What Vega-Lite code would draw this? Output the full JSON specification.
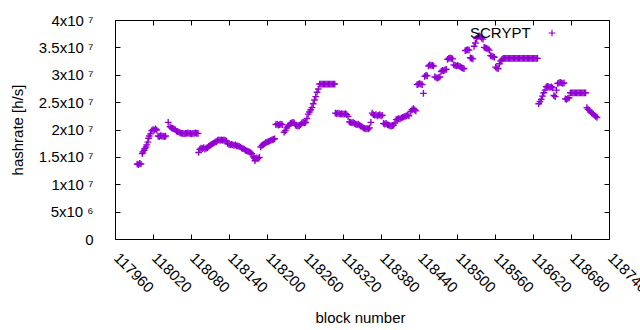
{
"$schema": "https://vega.github.io/schema/vega-lite/v6.json",
"width": 494, "height": 219,
"autosize": {"type": "none"},
"padding": {"left": 115, "top": 20, "right": 31, "bottom": 91},
"background": "white",
"config": {"view": {"stroke": "black", "strokeWidth": 1}, "font": "Liberation Sans"},
"data": {"values": [
{"b":117995,"h":1.37e7},{"b":117997,"h":1.36e7},{"b":117999,"h":1.38e7},{"b":118001,"h":1.37e7},
{"b":118003,"h":1.56e7},{"b":118004,"h":1.59e7},{"b":118006,"h":1.62e7},{"b":118007,"h":1.65e7},{"b":118009,"h":1.68e7},{"b":118010,"h":1.72e7},{"b":118012,"h":1.77e7},{"b":118013,"h":1.84e7},{"b":118014,"h":1.88e7},{"b":118016,"h":1.92e7},
{"b":118018,"h":1.98e7},{"b":118020,"h":2.00e7},{"b":118022,"h":1.99e7},{"b":118024,"h":2.01e7},{"b":118026,"h":1.99e7},
{"b":118028,"h":1.88e7},{"b":118030,"h":1.87e7},{"b":118032,"h":1.89e7},{"b":118034,"h":1.88e7},{"b":118036,"h":1.88e7},{"b":118038,"h":1.87e7},{"b":118040,"h":1.88e7},
{"b":118044,"h":2.13e7},
{"b":118047,"h":2.05e7},{"b":118049,"h":2.03e7},{"b":118051,"h":2.02e7},{"b":118053,"h":2.01e7},{"b":118055,"h":2.00e7},
{"b":118057,"h":1.97e7},{"b":118059,"h":1.96e7},{"b":118061,"h":1.95e7},{"b":118063,"h":1.94e7},
{"b":118065,"h":1.93e7},{"b":118067,"h":1.93e7},{"b":118069,"h":1.92e7},{"b":118071,"h":1.93e7},{"b":118073,"h":1.93e7},{"b":118075,"h":1.94e7},{"b":118077,"h":1.93e7},{"b":118079,"h":1.93e7},{"b":118081,"h":1.92e7},{"b":118083,"h":1.93e7},{"b":118085,"h":1.93e7},{"b":118087,"h":1.94e7},{"b":118089,"h":1.93e7},{"b":118091,"h":1.93e7},
{"b":118092,"h":1.58e7},
{"b":118094,"h":1.64e7},{"b":118096,"h":1.66e7},{"b":118098,"h":1.65e7},{"b":118100,"h":1.67e7},{"b":118102,"h":1.64e7},{"b":118104,"h":1.66e7},{"b":118106,"h":1.67e7},{"b":118108,"h":1.69e7},
{"b":118110,"h":1.71e7},{"b":118112,"h":1.73e7},{"b":118114,"h":1.74e7},{"b":118116,"h":1.75e7},{"b":118118,"h":1.77e7},{"b":118120,"h":1.78e7},
{"b":118122,"h":1.80e7},{"b":118124,"h":1.81e7},{"b":118126,"h":1.80e7},{"b":118128,"h":1.81e7},{"b":118130,"h":1.80e7},{"b":118132,"h":1.81e7},{"b":118134,"h":1.80e7},{"b":118136,"h":1.79e7},
{"b":118138,"h":1.74e7},{"b":118140,"h":1.73e7},{"b":118142,"h":1.72e7},{"b":118144,"h":1.73e7},{"b":118146,"h":1.72e7},{"b":118148,"h":1.71e7},{"b":118150,"h":1.72e7},{"b":118152,"h":1.70e7},{"b":118154,"h":1.70e7},{"b":118156,"h":1.69e7},
{"b":118158,"h":1.68e7},{"b":118160,"h":1.66e7},{"b":118162,"h":1.65e7},{"b":118164,"h":1.64e7},{"b":118166,"h":1.62e7},{"b":118168,"h":1.61e7},{"b":118170,"h":1.60e7},{"b":118172,"h":1.59e7},{"b":118174,"h":1.58e7},{"b":118176,"h":1.56e7},
{"b":118178,"h":1.50e7},{"b":118180,"h":1.48e7},{"b":118181,"h":1.43e7},{"b":118182,"h":1.47e7},{"b":118184,"h":1.48e7},{"b":118186,"h":1.47e7},{"b":118188,"h":1.49e7},
{"b":118190,"h":1.68e7},{"b":118192,"h":1.71e7},{"b":118194,"h":1.73e7},{"b":118196,"h":1.74e7},{"b":118198,"h":1.76e7},{"b":118200,"h":1.77e7},{"b":118202,"h":1.78e7},{"b":118204,"h":1.79e7},{"b":118206,"h":1.80e7},{"b":118208,"h":1.81e7},{"b":118210,"h":1.82e7},{"b":118212,"h":1.83e7},
{"b":118214,"h":2.09e7},{"b":118216,"h":2.10e7},{"b":118218,"h":2.08e7},{"b":118220,"h":2.09e7},{"b":118222,"h":2.10e7},{"b":118224,"h":2.09e7},
{"b":118227,"h":1.95e7},
{"b":118229,"h":1.98e7},{"b":118231,"h":2.03e7},{"b":118233,"h":2.06e7},{"b":118235,"h":2.08e7},{"b":118237,"h":2.11e7},{"b":118239,"h":2.12e7},{"b":118241,"h":2.13e7},{"b":118243,"h":2.12e7},{"b":118245,"h":2.08e7},{"b":118247,"h":2.07e7},{"b":118249,"h":2.06e7},{"b":118251,"h":2.07e7},{"b":118253,"h":2.09e7},{"b":118255,"h":2.12e7},{"b":118257,"h":2.13e7},{"b":118259,"h":2.12e7},{"b":118261,"h":2.13e7},
{"b":118263,"h":2.20e7},{"b":118265,"h":2.28e7},{"b":118267,"h":2.32e7},{"b":118269,"h":2.36e7},{"b":118271,"h":2.40e7},{"b":118273,"h":2.47e7},{"b":118275,"h":2.54e7},{"b":118277,"h":2.60e7},{"b":118279,"h":2.68e7},{"b":118281,"h":2.74e7},
{"b":118283,"h":2.83e7},{"b":118285,"h":2.83e7},{"b":118287,"h":2.83e7},{"b":118289,"h":2.83e7},{"b":118291,"h":2.83e7},{"b":118293,"h":2.83e7},{"b":118295,"h":2.83e7},{"b":118297,"h":2.83e7},{"b":118299,"h":2.83e7},{"b":118301,"h":2.83e7},{"b":118303,"h":2.83e7},{"b":118305,"h":2.83e7},{"b":118307,"h":2.83e7},
{"b":118308,"h":2.30e7},{"b":118310,"h":2.29e7},{"b":118312,"h":2.30e7},{"b":118314,"h":2.29e7},{"b":118316,"h":2.28e7},{"b":118318,"h":2.29e7},{"b":118320,"h":2.28e7},{"b":118322,"h":2.28e7},{"b":118324,"h":2.29e7},{"b":118326,"h":2.27e7},{"b":118328,"h":2.24e7},
{"b":118330,"h":2.14e7},{"b":118332,"h":2.13e7},{"b":118334,"h":2.12e7},{"b":118336,"h":2.13e7},{"b":118338,"h":2.11e7},
{"b":118340,"h":2.10e7},{"b":118342,"h":2.09e7},{"b":118344,"h":2.10e7},{"b":118346,"h":2.08e7},{"b":118348,"h":2.06e7},{"b":118350,"h":2.05e7},{"b":118352,"h":2.03e7},{"b":118354,"h":2.02e7},{"b":118356,"h":2.01e7},{"b":118358,"h":2.02e7},{"b":118360,"h":2.01e7},{"b":118362,"h":2.03e7},
{"b":118364,"h":2.13e7},{"b":118366,"h":2.30e7},
{"b":118368,"h":2.27e7},{"b":118370,"h":2.26e7},{"b":118372,"h":2.27e7},{"b":118374,"h":2.25e7},{"b":118376,"h":2.26e7},{"b":118378,"h":2.27e7},{"b":118380,"h":2.25e7},{"b":118382,"h":2.26e7},
{"b":118384,"h":2.11e7},
{"b":118386,"h":2.10e7},{"b":118388,"h":2.11e7},{"b":118390,"h":2.09e7},{"b":118392,"h":2.08e7},{"b":118394,"h":2.07e7},{"b":118396,"h":2.06e7},{"b":118398,"h":2.07e7},{"b":118400,"h":2.08e7},{"b":118402,"h":2.12e7},
{"b":118404,"h":2.18e7},{"b":118406,"h":2.19e7},{"b":118408,"h":2.20e7},{"b":118410,"h":2.19e7},{"b":118412,"h":2.21e7},{"b":118414,"h":2.22e7},{"b":118416,"h":2.23e7},{"b":118418,"h":2.24e7},{"b":118420,"h":2.25e7},{"b":118422,"h":2.26e7},{"b":118424,"h":2.25e7},
{"b":118427,"h":2.33e7},{"b":118429,"h":2.36e7},{"b":118431,"h":2.38e7},{"b":118433,"h":2.36e7},{"b":118435,"h":2.34e7},
{"b":118437,"h":2.82e7},{"b":118439,"h":2.83e7},{"b":118441,"h":2.84e7},{"b":118443,"h":2.83e7},{"b":118445,"h":2.82e7},
{"b":118447,"h":2.66e7},
{"b":118449,"h":2.97e7},{"b":118451,"h":2.99e7},{"b":118453,"h":2.98e7},
{"b":118455,"h":3.16e7},{"b":118457,"h":3.18e7},{"b":118459,"h":3.17e7},{"b":118461,"h":3.17e7},{"b":118463,"h":3.16e7},
{"b":118465,"h":2.96e7},{"b":118467,"h":2.95e7},{"b":118469,"h":2.94e7},{"b":118471,"h":2.95e7},{"b":118473,"h":2.96e7},
{"b":118475,"h":3.06e7},{"b":118477,"h":3.08e7},{"b":118479,"h":3.07e7},{"b":118481,"h":3.09e7},{"b":118483,"h":3.10e7},
{"b":118485,"h":3.28e7},{"b":118487,"h":3.30e7},{"b":118489,"h":3.31e7},{"b":118491,"h":3.30e7},{"b":118493,"h":3.29e7},
{"b":118495,"h":3.18e7},{"b":118497,"h":3.17e7},{"b":118499,"h":3.16e7},{"b":118501,"h":3.17e7},{"b":118503,"h":3.16e7},{"b":118505,"h":3.15e7},
{"b":118507,"h":3.13e7},{"b":118509,"h":3.12e7},{"b":118511,"h":3.11e7},
{"b":118513,"h":3.44e7},{"b":118515,"h":3.45e7},{"b":118517,"h":3.46e7},{"b":118519,"h":3.45e7},
{"b":118521,"h":3.31e7},{"b":118523,"h":3.30e7},{"b":118525,"h":3.29e7},
{"b":118527,"h":3.52e7},{"b":118529,"h":3.58e7},
{"b":118531,"h":3.66e7},{"b":118533,"h":3.70e7},{"b":118535,"h":3.71e7},{"b":118537,"h":3.69e7},{"b":118539,"h":3.67e7},{"b":118541,"h":3.65e7},
{"b":118543,"h":3.50e7},{"b":118545,"h":3.49e7},{"b":118547,"h":3.48e7},{"b":118549,"h":3.47e7},{"b":118551,"h":3.45e7},
{"b":118553,"h":3.35e7},{"b":118555,"h":3.34e7},{"b":118557,"h":3.33e7},{"b":118559,"h":3.32e7},
{"b":118561,"h":3.14e7},{"b":118563,"h":3.12e7},{"b":118565,"h":3.11e7},
{"b":118567,"h":3.20e7},{"b":118569,"h":3.25e7},{"b":118571,"h":3.28e7},
{"b":118573,"h":3.30e7},{"b":118575,"h":3.30e7},{"b":118577,"h":3.30e7},{"b":118579,"h":3.30e7},{"b":118581,"h":3.30e7},{"b":118583,"h":3.30e7},{"b":118585,"h":3.30e7},{"b":118587,"h":3.30e7},{"b":118589,"h":3.30e7},{"b":118591,"h":3.30e7},{"b":118593,"h":3.30e7},{"b":118595,"h":3.30e7},{"b":118597,"h":3.30e7},{"b":118599,"h":3.30e7},{"b":118601,"h":3.30e7},{"b":118603,"h":3.30e7},{"b":118605,"h":3.30e7},{"b":118607,"h":3.30e7},{"b":118609,"h":3.30e7},{"b":118611,"h":3.30e7},{"b":118613,"h":3.30e7},{"b":118615,"h":3.30e7},{"b":118617,"h":3.30e7},{"b":118619,"h":3.30e7},{"b":118621,"h":3.30e7},{"b":118623,"h":3.30e7},{"b":118625,"h":3.30e7},{"b":118627,"h":3.30e7},
{"b":118629,"h":2.47e7},{"b":118631,"h":2.51e7},{"b":118633,"h":2.55e7},{"b":118635,"h":2.61e7},{"b":118637,"h":2.67e7},{"b":118639,"h":2.72e7},
{"b":118641,"h":2.78e7},{"b":118643,"h":2.79e7},{"b":118645,"h":2.78e7},{"b":118647,"h":2.77e7},{"b":118649,"h":2.78e7},{"b":118651,"h":2.76e7},
{"b":118653,"h":2.62e7},{"b":118655,"h":2.60e7},
{"b":118657,"h":2.72e7},
{"b":118659,"h":2.84e7},{"b":118661,"h":2.85e7},{"b":118663,"h":2.86e7},{"b":118665,"h":2.85e7},{"b":118667,"h":2.84e7},{"b":118669,"h":2.85e7},
{"b":118671,"h":2.56e7},{"b":118673,"h":2.55e7},{"b":118675,"h":2.57e7},{"b":118677,"h":2.58e7},
{"b":118679,"h":2.67e7},{"b":118681,"h":2.67e7},{"b":118683,"h":2.67e7},{"b":118685,"h":2.67e7},{"b":118687,"h":2.67e7},{"b":118689,"h":2.67e7},{"b":118691,"h":2.67e7},{"b":118693,"h":2.67e7},{"b":118695,"h":2.67e7},{"b":118697,"h":2.67e7},{"b":118699,"h":2.67e7},{"b":118701,"h":2.67e7},{"b":118703,"h":2.67e7},
{"b":118705,"h":2.40e7},{"b":118707,"h":2.37e7},{"b":118709,"h":2.35e7},{"b":118711,"h":2.32e7},{"b":118713,"h":2.30e7},{"b":118715,"h":2.28e7},{"b":118717,"h":2.26e7},{"b":118719,"h":2.24e7},{"b":118721,"h":2.22e7}
]},
"layer": [
{
"mark": {"type": "point", "shape": "M-1,0H1M0,-1V1", "filled": false, "size": 45, "strokeWidth": 1.4, "opacity": 1},
"encoding": {
"x": {"field": "b", "type": "quantitative",
  "scale": {"domain": [117960, 118740], "nice": false, "zero": false},
  "axis": {"orient": "bottom", "values": [117960,118020,118080,118140,118200,118260,118320,118380,118440,118500,118560,118620,118680,118740],
    "format": "d", "labelAngle": 45, "labelAlign": "left", "labelBaseline": "top", "labelFontSize": 15, "labelColor": "black",
    "labelPadding": 16, "labelOffset": 6, "labelOverlap": false, "labelBound": false, "labelFlush": false,
    "tickSize": -5, "tickColor": "black", "domain": false, "grid": false,
    "title": "block number", "titleFontSize": 15, "titleFontWeight": "normal", "titleColor": "black",
    "titleX": 245, "titleY": 83, "titleBaseline": "alphabetic", "titleAlign": "center", "titleAnchor": null}},
"y": {"field": "h", "type": "quantitative",
  "scale": {"domain": [0, 40000000], "nice": false, "zero": true},
  "axis": {"orient": "left", "values": [0,5000000,10000000,15000000,20000000,25000000,30000000,35000000,40000000],
    "labelExpr": "datum.value == 0 ? '0' : (datum.value < 10000000 ? (datum.value/1000000) + 'x10 ⁶' : (datum.value/10000000) + 'x10 ⁷')",
    "labelFontSize": 15, "labelColor": "black", "labelPadding": 27, "labelOverlap": false, "labelBound": false, "labelFlush": false, "labelBaseline": "middle",
    "tickSize": -5, "tickColor": "black", "domain": false, "grid": false,
    "title": "hashrate [h/s]", "titleFontSize": 15, "titleFontWeight": "normal", "titleColor": "black",
    "titleX": -98, "titleY": 109.5, "titleAngle": -90, "titleBaseline": "middle", "titleAlign": "center", "titleAnchor": null}},
"color": {"datum": "SCRYPT", "type": "nominal", "scale": {"range": ["#9400d3"]},
  "legend": {"orient": "none", "legendX": 355, "legendY": 8, "title": "SCRYPT", "titleOrient": "left", "labelExpr": "''",
    "titleFontSize": 15, "titleFontWeight": "normal", "titleColor": "black", "titlePadding": 16, "titleBaseline": "middle",
    "symbolType": "M-1,0H1M0,-1V1", "symbolSize": 45, "symbolStrokeWidth": 1.2, "symbolFillColor": "transparent", "symbolOpacity": 1}}
}
},
{
"mark": {"type": "point", "opacity": 0},
"encoding": {
"x": {"field": "b", "type": "quantitative",
  "axis": {"orient": "top", "values": [117960,118020,118080,118140,118200,118260,118320,118380,118440,118500,118560,118620,118680,118740],
    "labels": false, "tickSize": -5, "tickColor": "black", "domain": false, "grid": false, "title": null}},
"y": {"field": "h", "type": "quantitative",
  "axis": {"orient": "right", "values": [0,5000000,10000000,15000000,20000000,25000000,30000000,35000000,40000000],
    "labels": false, "tickSize": -5, "tickColor": "black", "domain": false, "grid": false, "title": null}}
}
}
],
"resolve": {"axis": {"x": "independent", "y": "independent"}}
}
